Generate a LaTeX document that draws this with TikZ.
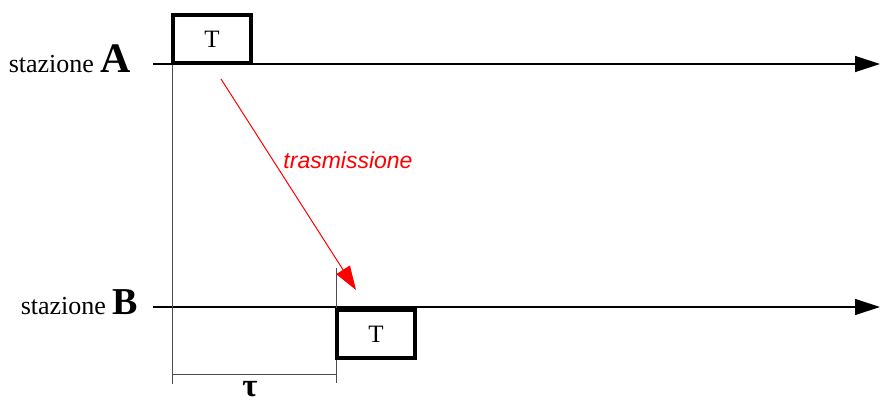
\documentclass[tikz,border=0pt]{standalone}
\usepackage{fontspec}
\setmainfont{Liberation Serif}
\newfontfamily\labsans{Liberation Sans}
\usetikzlibrary{arrows.meta}
\begin{document}
\begin{tikzpicture}[x=1pt,y=-1pt,
  axis/.style={line width=1.2pt,-{Triangle[length=25pt,width=16pt]}},
  tbox/.style={draw,line width=3.5pt,minimum width=78pt,minimum height=48pt,inner sep=0pt,font=\fontsize{25}{27}\selectfont},
  guide/.style={line width=0.9pt,draw=black!70},
  sig/.style={red,line width=1pt,-{Triangle[length=24pt,width=16pt]}},
  stlab/.style={font=\fontsize{26}{28}\selectfont,anchor=base east,inner sep=0pt}
]
\useasboundingbox (0,0) rectangle (881,402);
% axes
\coordinate (a0) at (153,64);
\coordinate (a1) at (880,64);
\coordinate (b0) at (153,307);
\coordinate (b1) at (880,307);
\draw[axis] (a0) -- (a1);
\draw[axis] (b0) -- (b1);
% labels
\node[stlab] (la) at (131,72) {stazione \fontsize{42}{44}\selectfont\textbf{A}};
\node[stlab] (lb) at (138,314) {stazione \fontsize{38}{40}\selectfont\textbf{B}};
% guides
\coordinate (g1t) at (172,64);
\coordinate (g1b) at (172,384);
\coordinate (g2t) at (336,268);
\coordinate (g2b) at (336,383);
\draw[guide] (g1t) -- (g1b);
\draw[guide] (g2t) -- (g2b);
\coordinate (t0) at (172,374);
\coordinate (t1) at (336,374);
\draw[guide] (t0) -- (t1);
\node[font=\fontsize{33}{35}\selectfont\bfseries,anchor=base,inner sep=0pt] (tau) at (250,396) {τ};
% boxes
\node[tbox] (ta) at (212,39) {T};
\node[tbox] (tb) at (376,334) {T};
% signal
\coordinate (s0) at (221,79);
\coordinate (s1) at (356,290);
\draw[sig] (s0) -- (s1);
\node[red,font=\labsans\itshape\fontsize{23}{25}\selectfont] (tr) at (348,160) {trasmissione};
\end{tikzpicture}
\end{document}
